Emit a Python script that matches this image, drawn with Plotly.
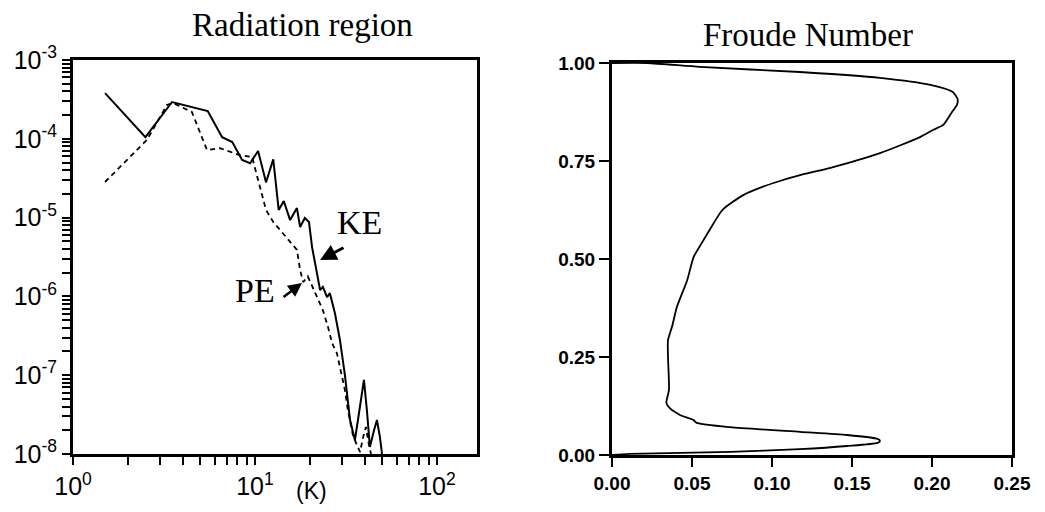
import plotly.graph_objects as go

# ---- Left panel: spectra (Radiation region) ----
ke_k = [1.5, 2.5, 3.5, 5.5, 6.6, 7.5, 8.5, 9.4, 10.4, 11.5, 12.6, 13.5, 14.4, 15.6, 17.0, 17.7,
        18.8, 19.8, 20.6, 21.4, 22.8, 23.6, 24.9, 25.8, 27.5, 29.3, 31.2, 33.3, 35.4, 36.8,
        38.2, 39.7, 41.2, 42.8, 45.1, 46.8, 48.6, 49.9]
ke_e = [3.8e-4, 1.05e-4, 2.93e-4, 2.25e-4, 1.05e-4, 9.1e-5, 5.4e-5, 4.9e-5, 7.0e-5, 2.8e-5,
        5.5e-5, 1.25e-5, 1.62e-5, 9.3e-6, 1.32e-5, 7.6e-6, 9.9e-6, 8.8e-6, 4.2e-6, 2.5e-6,
        1.2e-6, 1.32e-6, 9.8e-7, 1.1e-6, 6.1e-7, 2.8e-7, 1.0e-7, 2.7e-8, 1.5e-8, 2.7e-8,
        4.8e-8, 8.7e-8, 3.6e-8, 1.23e-8, 2.0e-8, 2.7e-8, 1.64e-8, 1.0e-8]

pe_k = [1.5, 2.55, 3.28, 3.54, 4.5, 5.45, 6.42, 8.27, 9.63, 10.6, 11.5, 12.6, 14.6, 17.0,
        17.7, 18.4, 19.5, 21.1, 23.6, 25.2, 26.5, 28.2, 30.1, 31.2, 32.4, 34.5, 36.3, 37.8,
        39.2, 40.7, 42.3, 43.4]
pe_e = [2.83e-5, 9.7e-5, 2.68e-4, 2.85e-4, 2.19e-4, 7.2e-5, 7.6e-5, 6.2e-5, 5.9e-5, 2.44e-5,
        1.25e-5, 8.8e-6, 5.8e-6, 3.9e-6, 2.16e-6, 1.52e-6, 1.8e-6, 1.2e-6, 6.7e-7, 4.1e-7,
        2.56e-7, 1.9e-7, 9.5e-8, 6.5e-8, 3.6e-8, 1.74e-8, 1.3e-8, 1.06e-8, 1.6e-8, 2.2e-8,
        1.3e-8, 1.0e-8]

left_xtick_vals = [1, 10, 100]
left_xtick_text = ["10<sup>0</sup>", "10<sup>1</sup>", "10<sup>2</sup>"]
left_ytick_vals = [1e-3, 1e-4, 1e-5, 1e-6, 1e-7, 1e-8]
left_ytick_text = ["10<sup>-3</sup>", "10<sup>-4</sup>", "10<sup>-5</sup>",
                   "10<sup>-6</sup>", "10<sup>-7</sup>", "10<sup>-8</sup>"]
minor_digits = [2, 3, 4, 5, 6, 7, 8, 9]

# ---- Right panel: Froude number profile ----
froude_value = [0.0, 0.022, 0.055, 0.1175, 0.1675, 0.199, 0.213, 0.216, 0.2156, 0.2125,
                0.207, 0.2006, 0.1925, 0.1675, 0.136, 0.1175, 0.105, 0.094, 0.082, 0.069,
                0.061, 0.056, 0.051, 0.047, 0.0406, 0.0375, 0.035, 0.035, 0.0356, 0.034,
                0.036, 0.0425, 0.051, 0.053, 0.074, 0.1175, 0.147, 0.166, 0.1675, 0.166,
                0.147, 0.1175, 0.074, 0.011, 0.0]
froude_height = [1.0, 1.0, 0.99, 0.977, 0.962, 0.944, 0.926, 0.908, 0.893, 0.875,
                 0.842, 0.829, 0.811, 0.770, 0.732, 0.714, 0.699, 0.684, 0.663, 0.625,
                 0.574, 0.540, 0.505, 0.446, 0.378, 0.327, 0.293, 0.25, 0.166, 0.133,
                 0.12, 0.102, 0.089, 0.082, 0.071, 0.059, 0.051, 0.041, 0.036, 0.031,
                 0.023, 0.015, 0.008, 0.003, 0.0]

# major (labelled) + minor (unlabelled) tick positions on the log axes
minor_x = [d * 10 ** e for e in range(0, 3) for d in minor_digits]
minor_y = [d * 10.0 ** e for e in range(-8, -3) for d in minor_digits]
x_tickvals = left_xtick_vals + minor_x
x_ticktext = left_xtick_text + [""] * len(minor_x)
y_tickvals = left_ytick_vals + minor_y
y_ticktext = left_ytick_text + [""] * len(minor_y)

fig = go.Figure()
fig.add_trace(go.Scatter(x=ke_k, y=ke_e, mode="lines", name="KE",
                         line=dict(color="black", width=2), xaxis="x", yaxis="y"))
fig.add_trace(go.Scatter(x=pe_k, y=pe_e, mode="lines", name="PE",
                         line=dict(color="black", width=1.8, dash="5px,4px"),
                         xaxis="x", yaxis="y"))
fig.add_trace(go.Scatter(x=froude_value, y=froude_height, mode="lines", name="Froude",
                         line=dict(color="black", width=1.8, shape="spline", smoothing=0.6),
                         xaxis="x2", yaxis="y2"))

W, H = 1045, 512
LX = [73 / W, 477 / W]
LY = [1 - 454 / H, 1 - 60 / H]
tickfont_l = dict(family="Liberation Sans, Arial, sans-serif", size=25, color="black")
tickfont_r = dict(family="Liberation Sans, Arial, sans-serif", size=19, color="black",
                  weight="bold")
axis_common = dict(showline=True, linewidth=3, linecolor="black", mirror=True,
                   showgrid=False, zeroline=False, ticks="outside", tickcolor="black",
                   automargin=False)

fig.update_layout(
    width=W, height=H,
    margin=dict(l=0, r=0, t=0, b=0, autoexpand=False),
    paper_bgcolor="white", plot_bgcolor="white",
    showlegend=False,
    xaxis=dict(type="log", domain=LX, range=[0, 2.22], anchor="y",
               tickmode="array", tickvals=x_tickvals, ticktext=x_ticktext,
               ticklen=8, tickwidth=2, tickfont=tickfont_l, **axis_common),
    yaxis=dict(type="log", domain=LY, range=[-8, -3], anchor="x",
               tickmode="array", tickvals=y_tickvals, ticktext=y_ticktext,
               ticklen=8, tickwidth=2, tickfont=tickfont_l, **axis_common),
    xaxis2=dict(domain=[612 / W, 1012 / W], range=[0, 0.25], anchor="y2",
                dtick=0.05, tickformat=".2f", ticklen=9, tickwidth=2,
                tickfont=tickfont_r, **axis_common),
    yaxis2=dict(domain=[1 - 455 / H, 1 - 63 / H], range=[0, 1], anchor="x2",
                dtick=0.25, tickformat=".2f", ticklen=10, tickwidth=2,
                tickfont=tickfont_r, **axis_common),
)

serif = "Liberation Serif, Times New Roman, serif"
center = dict(xref="paper", yref="paper", xanchor="center", yanchor="middle")
ann = [
    dict(text="Radiation region", x=302 / W, y=1 - 25 / H, showarrow=False,
         font=dict(family=serif, size=33, color="black"), **center),
    dict(text="Froude Number", x=808 / W, y=1 - 35 / H, showarrow=False,
         font=dict(family=serif, size=33, color="black"), **center),
    dict(text="(K)", x=311 / W, y=1 - 491 / H, showarrow=False,
         font=dict(family="Liberation Sans, Arial, sans-serif", size=23, color="black"),
         **center),
    dict(text="KE", x=359 / W, y=1 - 222 / H, showarrow=False,
         font=dict(family=serif, size=34, color="black"), **center),
    dict(text="PE", x=255 / W, y=1 - 290 / H, showarrow=False,
         font=dict(family=serif, size=34, color="black"), **center),
    dict(text="", x=320 / W, y=1 - 260 / H, xref="paper", yref="paper",
         showarrow=True, ax=25, ay=-13, arrowhead=2, arrowsize=1.1, arrowwidth=3,
         arrowcolor="black"),
    dict(text="", x=302 / W, y=1 - 283 / H, xref="paper", yref="paper",
         showarrow=True, ax=-20, ay=15, arrowhead=2, arrowsize=1.1, arrowwidth=2.5,
         arrowcolor="black"),
]
fig.update_layout(annotations=ann)

fig.write_html("out.html")
